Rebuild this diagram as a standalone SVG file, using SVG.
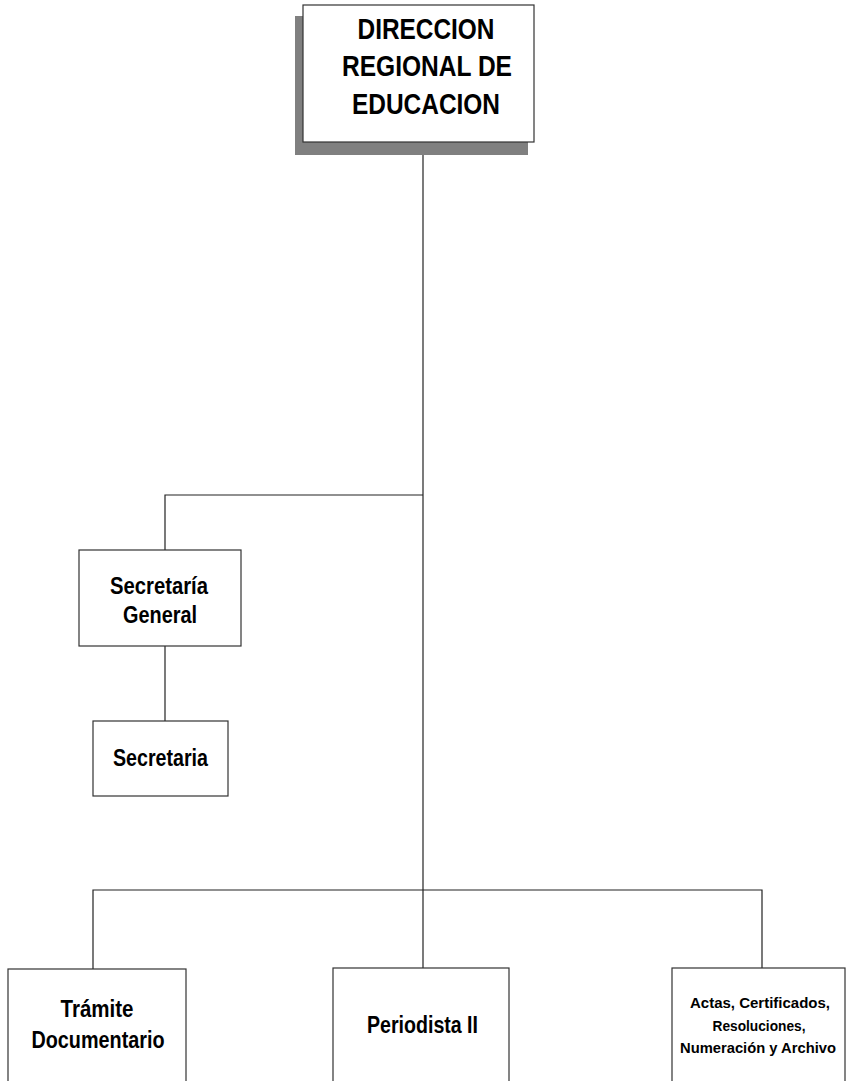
<svg xmlns="http://www.w3.org/2000/svg" width="847" height="1081" viewBox="0 0 847 1081">
<style>
.box{fill:#fff;stroke:#333;stroke-width:1.2}
.ln{fill:none;stroke:#222;stroke-width:1.2}
text{font-family:"Liberation Sans",Arial,sans-serif;font-weight:bold;fill:#000;text-anchor:middle}
.t1{font-size:29px}
.t2{font-size:23px}
.t3{font-size:15.5px}
</style>
<rect width="847" height="1081" fill="#fff"/>
<g id="connectors">
<path class="ln" d="M423 142V968"/>
<path class="ln" d="M423 495H165V550"/>
<path class="ln" d="M165 646V721"/>
<path class="ln" d="M93 969V890H762V968"/>
</g>
<g id="direccion">
<rect x="295" y="16" width="233" height="139" fill="#808080"/>
<rect class="box" x="303" y="5" width="231" height="137"/>
<text class="t1" x="426" y="39" textLength="137" lengthAdjust="spacingAndGlyphs">DIRECCION</text>
<text class="t1" x="427" y="76" textLength="170" lengthAdjust="spacingAndGlyphs">REGIONAL DE</text>
<text class="t1" x="426" y="114" textLength="148" lengthAdjust="spacingAndGlyphs">EDUCACION</text>
</g>
<g id="secretaria-general">
<rect class="box" x="79" y="550" width="162" height="96"/>
<text class="t2" x="159" y="594" textLength="98" lengthAdjust="spacingAndGlyphs">Secretaría</text>
<text class="t2" x="160" y="623" textLength="74" lengthAdjust="spacingAndGlyphs">General</text>
</g>
<g id="secretaria">
<rect class="box" x="93" y="721" width="135" height="75"/>
<text class="t2" x="160.5" y="766" textLength="95" lengthAdjust="spacingAndGlyphs">Secretaria</text>
</g>
<g id="tramite">
<rect class="box" x="8" y="969" width="178" height="130"/>
<text class="t2" x="97" y="1017" textLength="73" lengthAdjust="spacingAndGlyphs">Trámite</text>
<text class="t2" x="98" y="1048" textLength="133" lengthAdjust="spacingAndGlyphs">Documentario</text>
</g>
<g id="periodista">
<rect class="box" x="333" y="968" width="176" height="130"/>
<text class="t2" x="422.5" y="1033" textLength="111" lengthAdjust="spacingAndGlyphs">Periodista II</text>
</g>
<g id="actas">
<rect class="box" x="672" y="968" width="173" height="130"/>
<text class="t3" x="760" y="1008" textLength="140" lengthAdjust="spacingAndGlyphs">Actas, Certificados,</text>
<text class="t3" x="759" y="1031" textLength="93" lengthAdjust="spacingAndGlyphs">Resoluciones,</text>
<text class="t3" x="758" y="1053" textLength="156" lengthAdjust="spacingAndGlyphs">Numeración y Archivo</text>
</g>
</svg>
